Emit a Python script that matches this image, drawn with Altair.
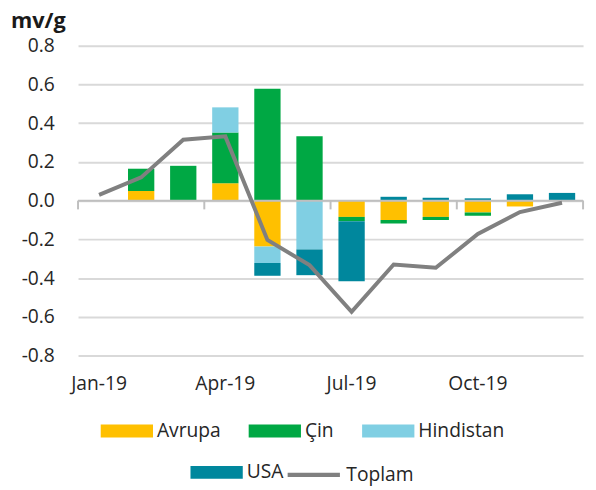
import altair as alt
import pandas as pd

months = ["Jan-19", "Feb-19", "Mar-19", "Apr-19", "May-19", "Jun-19",
          "Jul-19", "Aug-19", "Sep-19", "Oct-19", "Nov-19", "Dec-19"]
avrupa    = [0.0, 0.05, 0.0, 0.09, -0.237, 0.0, -0.084, -0.100, -0.084, -0.061, -0.030, 0.0]
cin       = [0.0, 0.115, 0.18, 0.262, 0.578, 0.333, -0.022, -0.018, -0.016, -0.017, 0.0, 0.0]
hindistan = [0.0, 0.0, 0.0, 0.13, -0.085, -0.252, 0.0, 0.0, 0.0, 0.0, 0.0, 0.0]
usa       = [0.0, 0.0, 0.0, 0.0, -0.066, -0.133, -0.31, 0.02, 0.015, 0.012, 0.033, 0.04]
toplam    = [0.03, 0.12, 0.315, 0.332, -0.203, -0.333, -0.574, -0.33, -0.347, -0.172, -0.059, -0.011]

series_names = ["Avrupa", "Çin", "Hindistan", "USA"]
series_colors = ["#FFC000", "#00A844", "#80CFE3", "#00879D"]
line_name = "Toplam"
line_color = "#808080"
tick_months = ["Jan-19", "Apr-19", "Jul-19", "Oct-19"]
y_ticks = [-0.8, -0.6, -0.4, -0.2, 0.0, 0.2, 0.4, 0.6, 0.8]

rows = []
for i, (name, vals) in enumerate(zip(series_names, [avrupa, cin, hindistan, usa])):
    for m, v in zip(months, vals):
        if v != 0:
            rows.append({"month": m, "series": name, "value": v, "order": i})
bars_df = pd.DataFrame(rows)
line_df = pd.DataFrame({"month": months, "value": toplam, "series": line_name})

FONT = "Open Sans"
TXT = "#262626"
FS = 19.5

x_scale = alt.Scale(domain=months, paddingInner=0.375, paddingOuter=0.1875)
y_scale = alt.Scale(domain=[-0.8, 0.8], nice=False, zero=False)

x_axis = alt.Axis(values=tick_months, labelAngle=0, domain=False, ticks=False,
                  labelPadding=19, grid=False, labelFontSize=FS, labelFont=FONT,
                  labelColor=TXT, labelOverlap=False, title=None)
y_axis = alt.Axis(values=y_ticks, domain=False, ticks=False, tickCount=9,
                  labelExpr="replace(format(datum.value, '.1f'), '\u2212', '-')",
                  labelPadding=24, gridColor="#D9D9D9", gridWidth=2,
                  labelOverlap=False, labelBound=False, title=None,
                  labelFontSize=FS, labelFont=FONT, labelColor=TXT)

rect_path = "M-1,-0.245H1V0.245H-1Z"


def legend_at(x, y, sym=rect_path, sw=0, size=2809):
    return alt.Legend(title=None, orient="none", direction="horizontal",
                      legendX=x, legendY=y, padding=0,
                      symbolType=sym, symbolSize=size, symbolStrokeWidth=sw,
                      labelOffset=4, columnPadding=28, labelFont=FONT,
                      labelFontSize=FS, labelColor=TXT)


stacked = alt.Chart(bars_df).transform_stack(
    stack="value", as_=["y0", "y1"], groupby=["month"],
    sort=[alt.SortField("order", order="ascending")], offset="zero",
)

bars_main = stacked.transform_filter(
    alt.FieldOneOfPredicate(field="series", oneOf=series_names[:3])
).mark_bar().encode(
    x=alt.X("month:N", scale=x_scale, sort=months, title=None, axis=x_axis),
    y=alt.Y("y0:Q", scale=y_scale, title=None, axis=y_axis),
    y2="y1:Q",
    fill=alt.Fill("series:N",
                  scale=alt.Scale(domain=series_names[:3], range=series_colors[:3]),
                  legend=legend_at(23, 364)),
)

bars_usa = stacked.transform_filter(
    alt.FieldEqualPredicate(field="series", equal=series_names[3])
).mark_bar().encode(
    x=alt.X("month:N", scale=x_scale, sort=months, title=None, axis=x_axis),
    y=alt.Y("y0:Q", scale=y_scale, title=None, axis=y_axis),
    y2="y1:Q",
    fill=alt.Fill("series:N",
                  scale=alt.Scale(domain=series_names[3:], range=series_colors[3:]),
                  legend=legend_at(114, 406)),
)

zero_df = pd.DataFrame({"z": [0]})
zero_line = alt.Chart(zero_df).mark_rule(color="#BFBFBF", strokeWidth=2).encode(
    y=alt.YDatum(0, axis=y_axis, scale=y_scale, title=None)
)

ticks_df = pd.DataFrame({"month": tick_months})
ticks = alt.Chart(ticks_df).mark_rule(color="#BFBFBF", strokeWidth=2, xOffset=-8).encode(
    x=alt.X("month:N", scale=x_scale, sort=months, bandPosition=0, title=None, axis=x_axis),
    y=alt.YDatum(0, axis=y_axis, scale=y_scale, title=None),
    y2=alt.datum(-0.045),
)
end_df = pd.DataFrame({"month": [months[-1]]})
end_tick = alt.Chart(end_df).mark_rule(color="#BFBFBF", strokeWidth=2, xOffset=8).encode(
    x=alt.X("month:N", scale=x_scale, sort=months, bandPosition=1, title=None, axis=x_axis),
    y=alt.YDatum(0, axis=y_axis, scale=y_scale, title=None),
    y2=alt.datum(-0.045),
)

line = alt.Chart(line_df).mark_line(strokeWidth=4).encode(
    x=alt.X("month:N", scale=x_scale, sort=months, title=None, axis=x_axis),
    y=alt.Y("value:Q", scale=y_scale, title=None, axis=y_axis),
    stroke=alt.Stroke("series:N",
                      scale=alt.Scale(domain=[line_name], range=[line_color]),
                      legend=legend_at(210, 406, sym="M-1,0H1", sw=4.5)),
)

chart = alt.layer(bars_main, bars_usa, zero_line, ticks, end_tick, line).resolve_scale(
    fill="independent"
).resolve_legend(
    fill="independent", stroke="independent"
).properties(
    width=512, height=314,
    padding={"left": 71, "top": 35, "right": 5, "bottom": 132},
    autosize=alt.AutoSizeParams(type="none"),
    title=alt.TitleParams("mv/g", anchor="start", frame="group", fontSize=22,
                          fontWeight="bold", font=FONT, color="#1a1a1a",
                          dx=-68, dy=0, offset=3),
).configure_view(stroke=None)

chart.save("out.html", embed_options={"renderer": "svg", "actions": False})
